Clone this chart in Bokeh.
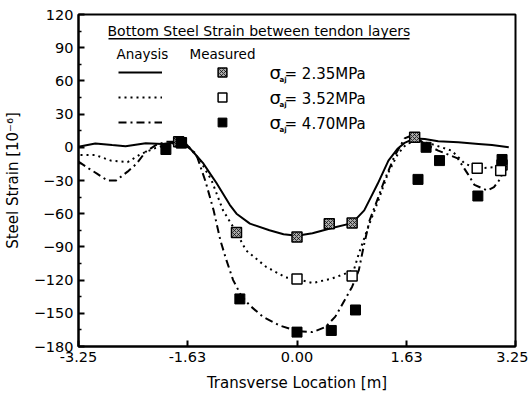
from bokeh.plotting import figure
from bokeh.models import (FixedTicker, Legend, LegendItem, Label, BoxAnnotation, Range1d)
from bokeh.embed import file_html
from bokeh.resources import INLINE

# ---------------- data ----------------
x_ticks = [-3.25, -1.63, 0.0, 1.63, 3.25]
x_tick_labels = ["-3.25", "-1.63", "0.00", "1.63", "3.25"]
y_ticks = [-180, -150, -120, -90, -60, -30, 0, 30, 60, 90, 120]
y_minor = [-165, -135, -105, -75, -45, -15, 15, 45, 75, 105]

# analysis curves
ana_235_x = [-3.25, -3.0, -2.75, -2.55, -2.25, -2.0, -1.8, -1.65, -1.54, -1.4, -1.29, -1.2,
             -1.1, -1.0, -0.9, -0.7, -0.41, -0.2, 0.0, 0.23, 0.52, 0.82, 1.0, 1.1, 1.2,
             1.36, 1.5, 1.6, 1.75, 1.9, 2.1, 2.4, 2.7, 2.9, 3.15]
ana_235_y = [0.5, 3.5, 2.0, 1.0, 3.7, 3.0, 4.5, 3.0, -4.5, -14, -24, -32,
             -42, -52, -60, -69, -75, -78.5, -80, -77.6, -73, -68.5, -57, -45, -33,
             -12, -1, 4, 8, 7.5, 5.5, 4.5, 3.0, 2.0, 0.0]

ana_352_x = [-3.22, -3.0, -2.77, -2.52, -2.32, -2.1, -1.9, -1.75, -1.6, -1.44, -1.27,
             -1.1, -0.9, -0.76, -0.46, -0.17, 0.0, 0.23, 0.52, 0.77, 0.85, 0.92, 1.06,
             1.21, 1.35, 1.5, 1.63, 1.8, 2.0, 2.3, 2.5, 2.69, 2.94, 3.1]
ana_352_y = [-7, -7, -12, -13.4, -6, -0.5, 3, 4.5, 0, -12, -30,
             -57, -77, -93, -108, -117.5, -119, -122.7, -118.6, -113, -110, -96, -72,
             -48, -24, -6, 3, 6, 3, -3, -15, -19, -18, -12]

ana_470_x = [-3.25, -3.1, -2.97, -2.82, -2.69, -2.52, -2.39, -2.25, -2.1, -1.95, -1.75,
             -1.62, -1.5, -1.36, -1.24, -1.14, -1.05, -0.95, -0.83, -0.7, -0.51, -0.26,
             0.0, 0.23, 0.42, 0.57, 0.71, 0.82, 0.92, 0.99, 1.08, 1.21, 1.3, 1.45, 1.6,
             1.72, 1.9, 2.1, 2.39, 2.54, 2.64, 2.83, 2.93, 3.03, 3.1]
ana_470_y = [-13, -19, -24, -30, -30, -22, -15, -4, 2, 5, 5,
             0, -6, -31, -57, -84, -102, -120, -134, -143, -153, -161,
             -166, -167, -162.5, -153, -138, -126, -111, -90, -66, -45, -30, -8, 8,
             11, 3, -3, -10, -24, -34, -39, -36, -28, -12]

# measured points
meas_235_x = [-1.76, -0.90, 0.0, 0.48, 0.82, 1.75, 3.05]
meas_235_y = [5, -77, -81, -69, -68.5, 9, -16]
meas_352_x = [-1.72, 0.0, 0.82, 2.68, 3.03]
meas_352_y = [4, -119, -116.4, -19, -21]
meas_470_x = [-1.95, -1.72, -0.85, 0.0, 0.51, 0.87, 1.80, 1.92, 2.12, 2.69, 3.05]
meas_470_y = [-2, 4, -137, -167, -165.5, -147, -29, 0, -12, -44, -11]

legend_title = "Bottom Steel Strain between tendon layers"
col_heads = ["Anaysis", "Measured"]
stress_labels = ["= 2.35MPa", "= 3.52MPa", "= 4.70MPa"]

FONT = "DejaVu Sans"

p = figure(width=528, height=405, output_backend="svg", toolbar_location=None,
           x_range=Range1d(-3.25, 3.25), y_range=Range1d(-180, 120),
           min_border_left=74, min_border_right=13, min_border_top=14, min_border_bottom=59)
p.background_fill_color = "white"
p.border_fill_color = "white"
p.outline_line_color = "black"
p.outline_line_width = 2
p.xgrid.visible = False
p.ygrid.visible = False

# curves
r1 = p.line(ana_235_x, ana_235_y, line_color="black", line_width=2)
r2 = p.line(ana_352_x, ana_352_y, line_color="black", line_width=2, line_dash="2 4")
r3 = p.line(ana_470_x, ana_470_y, line_color="black", line_width=2, line_dash="8 4 2 4")

m1 = p.scatter(meas_235_x, meas_235_y, marker="square", size=10, fill_color="#a8a8a8",
               hatch_pattern="x", hatch_color="black", hatch_scale=4, hatch_weight=0.7,
               line_color="black", line_width=1.5)
m2 = p.scatter(meas_352_x, meas_352_y, marker="square", size=10, fill_color="white",
               line_color="black", line_width=1.5)
m3 = p.scatter(meas_470_x, meas_470_y, marker="square", size=10, fill_color="black",
               line_color="black", line_width=1)

# axes
xa = p.xaxis[0]
xa.ticker = FixedTicker(ticks=x_ticks)
xa.major_label_overrides = {t: l for t, l in zip(x_ticks, x_tick_labels)}
xa.axis_label = "Transverse Location [m]"
ya = p.yaxis[0]
ya.ticker = FixedTicker(ticks=y_ticks, minor_ticks=y_minor)
ya.axis_label = "Steel Strain [10\u207b\u2076]"
for ax in (xa, ya):
    ax.axis_line_width = 2
    ax.axis_line_color = "black"
    ax.major_tick_in = 6
    ax.major_tick_out = 0
    ax.major_tick_line_width = 2
    ax.minor_tick_in = 3
    ax.minor_tick_out = 0
    ax.minor_tick_line_width = 1.5
    ax.major_label_text_font = FONT
    ax.major_label_text_font_size = "14.5px"
    ax.major_label_text_color = "black"
    ax.axis_label_text_font = FONT
    ax.axis_label_text_font_size = "15px"
    ax.axis_label_text_font_style = "normal"
    ax.axis_label_text_color = "black"
xa.minor_tick_in = 0
xa.major_label_standoff = 5
xa.axis_label_standoff = 9
ya.major_label_standoff = 5
ya.axis_label_standoff = 9

# legends (lines and markers)
common = dict(glyph_height=22, label_height=22, spacing=3, padding=0, margin=0,
              label_width=0, label_standoff=0, border_line_alpha=0,
              background_fill_alpha=0, label_text_font_size="1px")
leg_lines = Legend(items=[LegendItem(label=" ", renderers=[r]) for r in (r1, r2, r3)],
                   location=(40, 213), glyph_width=44, **common)
leg_marks = Legend(items=[LegendItem(label=" ", renderers=[m]) for m in (m1, m2, m3)],
                   location=(133, 213), glyph_width=22, **common)
p.add_layout(leg_lines, "center")
p.add_layout(leg_marks, "center")

# legend texts (screen units relative to the frame, y from bottom)
def lab(x, y, t, size, **kw):
    p.add_layout(Label(x=x, y=y, x_units="screen", y_units="screen", text=t,
                       text_font=FONT, text_font_size=size, text_baseline="middle",
                       text_color="black", **kw))

lab(29, 316, legend_title, "14px")
p.add_layout(BoxAnnotation(left=30, right=331, bottom=307, top=308.5,
                           left_units="screen", right_units="screen",
                           bottom_units="screen", top_units="screen",
                           fill_color="black", fill_alpha=1, line_alpha=0))
lab(38, 293, col_heads[0], "13.5px")
lab(111, 293, col_heads[1], "13.5px")
for i, t in enumerate(stress_labels):
    yc = 273 - 25 * i
    lab(191, yc + 1, "\u03c3", "18px")
    lab(201, yc - 6, "aj", "7px", text_font_style="bold")
    lab(206, yc, t, "15px")

open("out.html", "w").write(file_html(p, INLINE))
